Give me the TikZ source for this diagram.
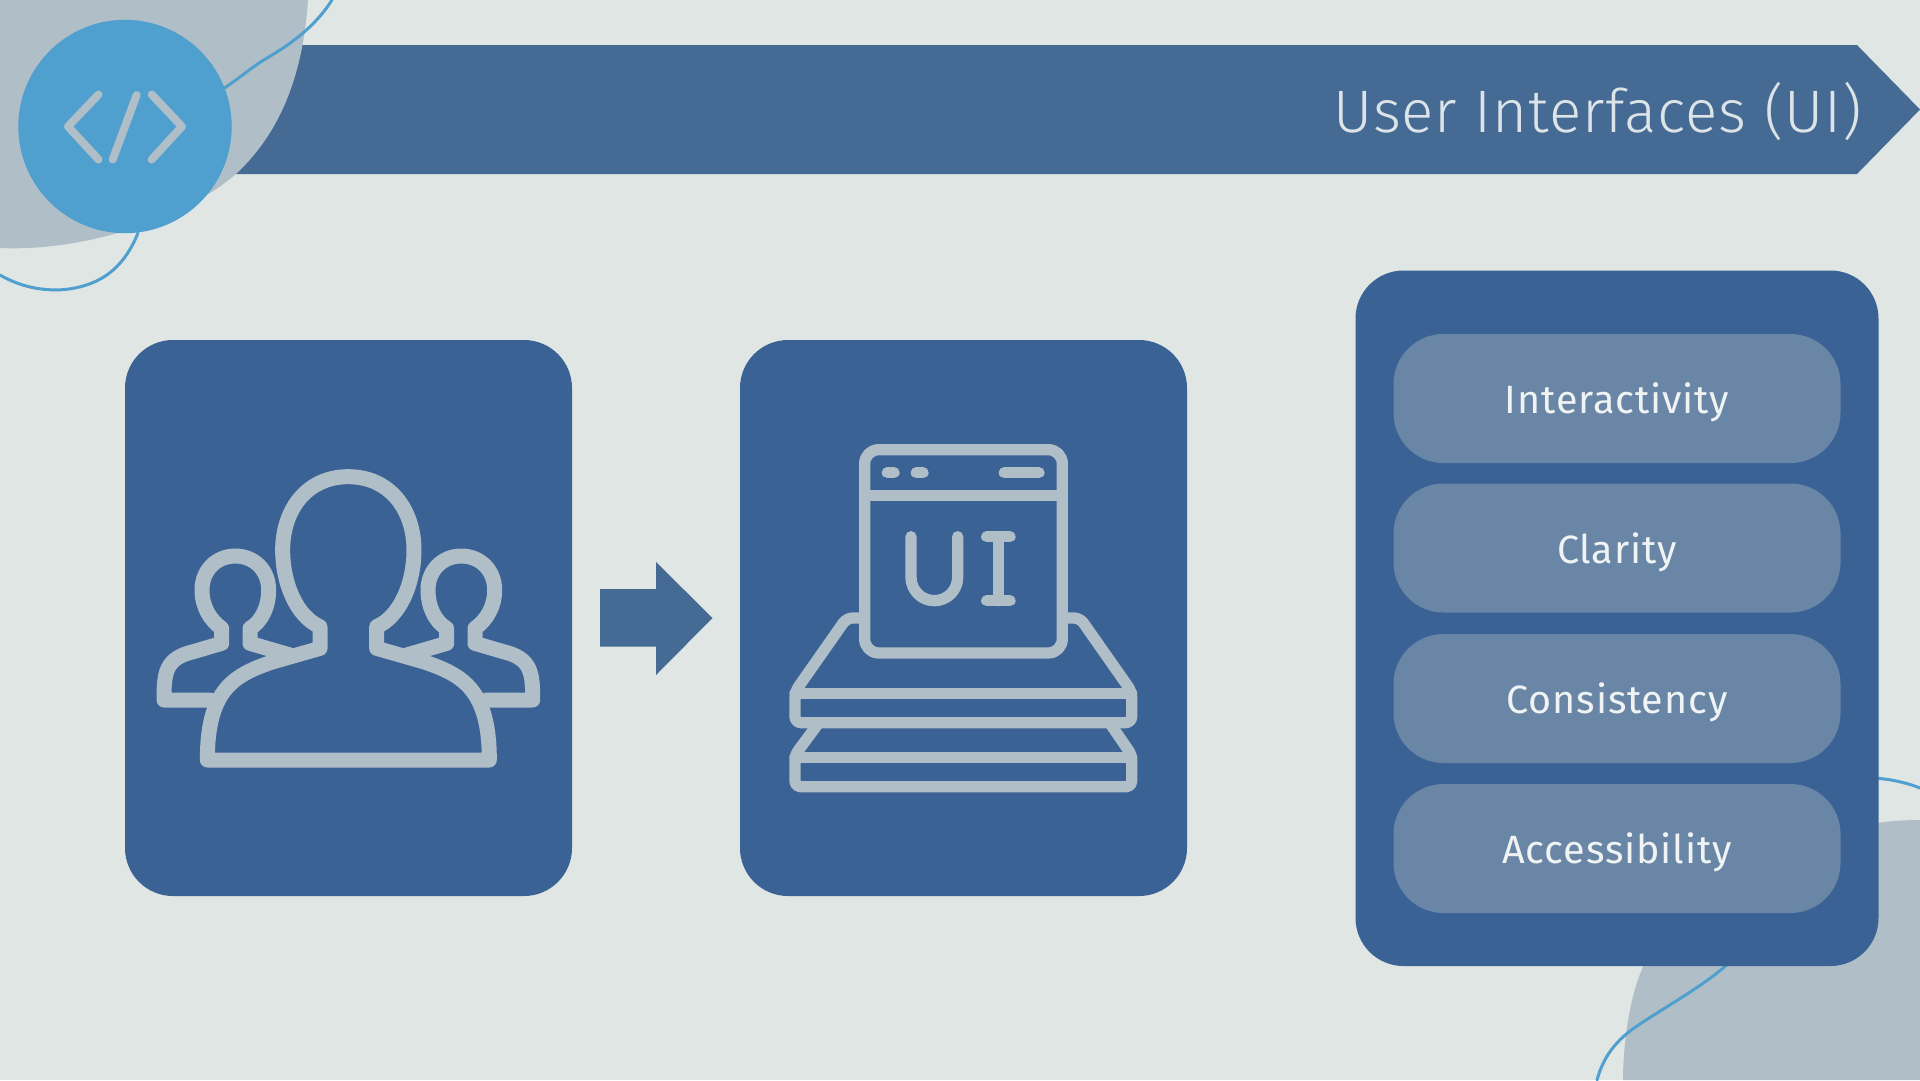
\documentclass[tikz,border=0pt]{standalone}
\usepackage{fontspec}
\setmainfont{Fira Sans Light}
\newfontfamily\pillfont[LetterSpace=2.2]{Fira Sans}
\newfontfamily\titlefont[LetterSpace=1.5]{Fira Sans Light}
\definecolor{bgc}{HTML}{E0E6E3}
\definecolor{bannerc}{HTML}{456A94}
\definecolor{cardc}{HTML}{3A6295}
\definecolor{pillc}{HTML}{6A86A6}
\definecolor{blobc}{HTML}{B0BEC7}
\definecolor{skyc}{HTML}{4F9FCF}
\definecolor{titlec}{HTML}{DCE4E8}
\definecolor{pilltext}{HTML}{F0F3F3}
\tikzset{
 pillbox/.style={rectangle,fill=pillc,draw=none,rounded corners=50pt,minimum width=447pt,minimum height=129pt,inner sep=0pt,
   text=pilltext,font=\pillfont\fontsize{39.5}{41}\selectfont,text height=30pt,text depth=0pt,align=center},
 wire/.style={draw=skyc,line width=3pt,line cap=round},
 iconline/.style={draw=blobc,line join=round,line cap=round},
}
\begin{document}
\begin{tikzpicture}[x=1pt,y=-1pt]
\useasboundingbox (0,0) rectangle (1920,1080);
\fill[bgc] (0,0) rectangle (1920,1080);
% banner
\fill[bannerc] (200,45) -- (1857,45) -- (1920,109.5) -- (1857,174) -- (200,174) -- cycle;
% blobs
\fill[blobc] (0,0) -- (308,0) .. controls (304,60) and (288,125) .. (237,173) .. controls (190,215) and (90,252) .. (0,248) -- cycle;
\fill[blobc] (1623,1080) .. controls (1623,1050) and (1628,1000) .. (1643,967) -- (1700,830) .. controls (1760,825) and (1860,825) .. (1878,823) .. controls (1890,821) and (1905,820) .. (1920,820) -- (1920,1080) -- cycle;
% wires
\draw[wire] (332,0) .. controls (318,22) and (298,40) .. (267,58) .. controls (250,68) and (238,80) .. (215,94);
\draw[wire] (138,233) .. controls (125,265) and (105,282) .. (75,288) .. controls (50,293) and (22,288) .. (0,275);
\draw[wire] (1597,1080) .. controls (1603,1058) and (1615,1040) .. (1640,1024) .. controls (1670,1004) and (1705,985) .. (1730,962);
\draw[wire] (1870,778) .. controls (1885,778) and (1905,782) .. (1920,788);
% circle
\node[circle,fill=skyc,minimum size=213.4pt,inner sep=0pt] (badge) at (125,126.5) {};
\draw[iconline,line width=8pt] (98.5,94.5) -- (68,126.5) -- (98.5,159.5);
\draw[iconline,line width=8pt] (136.7,95) -- (112.7,159.5);
\draw[iconline,line width=8pt] (151.7,94.5) -- (182,126.5) -- (151.7,159.5);
% title
\node[anchor=base east,inner sep=0pt,text=titlec,font=\titlefont\fontsize{60}{62}\selectfont] (title) at (1862,132.5) {User Interfaces (UI)};
% cards
\fill[cardc,rounded corners=48pt] (125,340) rectangle (572,896);
\fill[cardc,rounded corners=48pt] (740,340) rectangle (1187,896);
\fill[cardc,rounded corners=48pt] (1355.5,270.5) rectangle (1878.5,966);
% arrow
\fill[bannerc] (600,589) -- (656,589) -- (656,562) -- (712.5,618) -- (656,675) -- (656,646.5) -- (600,646.5) -- cycle;
% pills
\node[pillbox] (p1) at (1617,398.5) {Interactivity};
\node[pillbox] (p2) at (1617,548) {Clarity};
\node[pillbox] (p3) at (1617,698.5) {Consistency};
\node[pillbox] (p4) at (1617,848.5) {Accessibility};
% users icon
\begin{scope}[shift={(130,440)},x=0.33333pt,y=-0.33333pt,iconline,line width=15pt]
\draw (655,110) .. controls (780,110) and (852,210) .. (852,330) .. controls (852,430) and (810,530) .. (740,560) -- (740,625) -- (880,665) .. controls (1000,705) and (1078,750) .. (1078,960) -- (232,960) .. controls (232,750) and (310,705) .. (430,665) -- (570,625) -- (570,560) .. controls (500,530) and (458,430) .. (458,330) .. controls (458,210) and (530,110) .. (655,110) -- cycle;
% left person
\draw (240,780) -- (102,780) .. controls (102,700) and (105,655) .. (190,635) -- (275,610) -- (275,565) .. controls (240,540) and (216,500) .. (216,450) .. controls (216,390) and (260,348) .. (316,348) .. controls (372,348) and (416,390) .. (416,450) .. controls (416,500) and (395,545) .. (360,565) -- (360,610) -- (480,645);
% right person
\draw (1070,780) -- (1208,780) .. controls (1208,700) and (1205,655) .. (1120,635) -- (1035,610) -- (1035,565) .. controls (1070,540) and (1094,500) .. (1094,450) .. controls (1094,390) and (1050,348) .. (994,348) .. controls (938,348) and (894,390) .. (894,450) .. controls (894,500) and (915,545) .. (950,565) -- (950,610) -- (830,645);
\end{scope}
% UI icon
\begin{scope}[shift={(770,430)},x=0.33333pt,y=-0.33333pt,iconline,line width=11.3pt]
\draw[rounded corners=14pt] (284,59) rectangle (877,669);
\draw (284,197) -- (877,197);
\draw (352,128) -- (372,128) (439,128) -- (459,128) (703,128) -- (807,128);
\draw (423,320) -- (423,442) arc[start angle=180,end angle=0,radius=70] -- (563,320);
\draw (650,320) -- (720,320) (685,320) -- (685,512) (650,512) -- (720,512);
\draw[rounded corners=6pt] (267,564) -- (230,564) -- (75,785) -- (75,878) -- (1085,878) -- (1085,785) -- (930,564) -- (893,564);
\draw (75,790) -- (1085,790);
\draw[rounded corners=5pt] (145,880) -- (75,975) -- (75,1070) -- (1085,1070) -- (1085,975) -- (1020,880);
\draw (75,982) -- (1085,982);
\end{scope}
\end{tikzpicture}
\end{document}
